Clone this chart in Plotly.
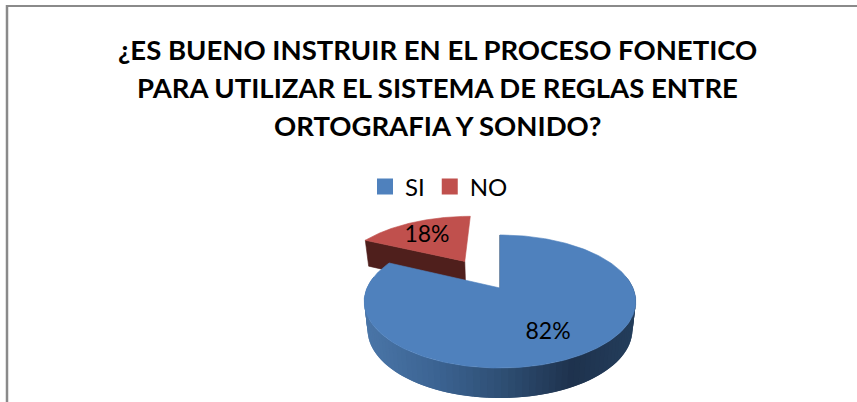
import numpy as np
import plotly.graph_objects as go

TITLE_LINES = ["¿ES BUENO INSTRUIR EN EL PROCESO FONETICO",
               "PARA UTILIZAR EL SISTEMA DE REGLAS ENTRE",
               "ORTOGRAFIA Y SONIDO?"]
CATEGORIES = ["SI", "NO"]
VALUES = [82, 18]
TOP_COLORS = ["#4f81bd", "#c0504d"]

W, H = 857, 402
CX, CY, A, B, K = 500.0, 288.0, 63.8, 133.0, 0.203
EXPLODE = [0.0, 0.54]
SIDE_STOPS_X = [365, 430, 500, 570, 637]
SIDE_STOPS_C = [(74, 117, 167), (60, 100, 147), (46, 78, 115), (30, 50, 77), (36, 62, 92)]


def project(u, v):
    w = 1 - K * v
    return CX + B * u / w, CY + A * v / w


def lower(x, y, v):
    return CX + 0.975 * (x - CX), y + 27.8 + 2.2 * v


def hexc(c):
    return "#%02x%02x%02x" % tuple(int(round(i)) for i in c)


def poly(xs, ys, color, lw=0.6):
    return go.Scatter(x=list(xs), y=list(ys), mode="lines", fill="toself", fillcolor=color,
                      line=dict(color=color, width=lw), hoverinfo="skip", showlegend=False)


fig = go.Figure()
total = sum(VALUES)
fracs = np.cumsum([0] + VALUES) / total
parts = []
for i in range(len(VALUES)):
    a0, a1 = 2 * np.pi * fracs[i], 2 * np.pi * fracs[i + 1]
    mid = (a0 + a1) / 2
    ox, oy = EXPLODE[i] * np.sin(mid), -EXPLODE[i] * np.cos(mid)
    t = np.linspace(a0, a1, 241)
    u = ox + np.sin(t)
    v = oy - np.cos(t)
    parts.append((ox, oy, u, v, mid))

# red slice: dark front face and the short visible bit of rim, then the top
ox, oy, u, v, mid = parts[1]
x, y = project(u, v)
xa, ya = project(ox, oy)
lx, ly = lower(x, y, v)
lax, lay = lower(xa, ya, oy)
DARK_RED = "#4f1f1c"
fig.add_trace(poly([xa, x[0], lx[0], lax, xa], [ya, y[0], ly[0], lay, ya], DARK_RED))
fig.add_trace(poly(np.r_[xa, x, xa], np.r_[ya, y, ya], TOP_COLORS[1]))

# blue slice: shaded rim, painted as overlapping bands, then the top
ox, oy, u, v, mid = parts[0]
x, y = project(u, v)
xa, ya = project(ox, oy)
lx, ly = lower(x, y, v)
lax, lay = lower(xa, ya, oy)
fig.add_trace(poly([xa, x[0], lx[0], lax, xa], [ya, y[0], ly[0], lay, ya], "#1f3552"))
stops = np.array(SIDE_STOPS_C, dtype=float)
front = np.where(v > -0.2)[0]
for j0 in range(front[0], front[-1], 2):
    j1 = min(j0 + 4, front[-1])
    mx = (x[j0] + x[j1]) / 2
    c = [np.interp(mx, SIDE_STOPS_X, stops[:, k]) for k in range(3)]
    xs = np.r_[x[j0:j1 + 1], lx[j0:j1 + 1][::-1], x[j0]]
    ys = np.r_[y[j0:j1 + 1], ly[j0:j1 + 1][::-1], y[j0]]
    fig.add_trace(poly(xs, ys, hexc(c), lw=0))
fig.add_trace(poly(np.r_[xa, x, xa], np.r_[ya, y, ya], TOP_COLORS[0]))

# value labels
label_pos = [project(0.316, 0.617), project(-0.657, -0.97)]
fig.add_trace(go.Scatter(x=[p[0] for p in label_pos], y=[p[1] for p in label_pos], mode="text",
                         text=[f"{val}%" for val in VALUES], showlegend=False, hoverinfo="skip",
                         textfont=dict(family="Lato", size=23, color="#000000")))

# legend entries
for name, col in zip(CATEGORIES, TOP_COLORS):
    fig.add_trace(go.Scatter(x=[None], y=[None], mode="markers", name=name,
                             marker=dict(symbol="square", size=16, color=col)))

TITLE_Y = [49, 87, 125]
fig.update_layout(
    width=W, height=H, autosize=False,
    margin=dict(l=0, r=0, t=0, b=0),
    paper_bgcolor="#ffffff", plot_bgcolor="#ffffff",
    annotations=[dict(text=t, xref="x", yref="y", x=437, y=yy, showarrow=False, xanchor="center", yanchor="middle",
                      font=dict(family="Lato", size=27.5, color="#000000", weight="bold"))
                 for t, yy in zip(TITLE_LINES, TITLE_Y)],
    legend=dict(orientation="h", x=439 / W, xanchor="center", y=1 - 187 / H, yanchor="middle",
                font=dict(family="Lato", size=24, color="#000000"), itemwidth=30,
                bgcolor="rgba(0,0,0,0)"),
    xaxis=dict(range=[0, W], visible=False, fixedrange=True),
    yaxis=dict(range=[H, 0], visible=False, fixedrange=True),
    shapes=[
        dict(type="line", xref="x", yref="y", x0=7, x1=7, y0=5, y1=H, line=dict(color="#8a8a8a", width=2.5)),
        dict(type="line", xref="x", yref="y", x0=6, x1=W, y0=6, y1=6, line=dict(color="#8a8a8a", width=2)),
    ],
)
fig.write_html("out.html", config={"displayModeBar": False},
               post_script="document.body.style.margin='0';document.body.style.overflow='hidden';")
